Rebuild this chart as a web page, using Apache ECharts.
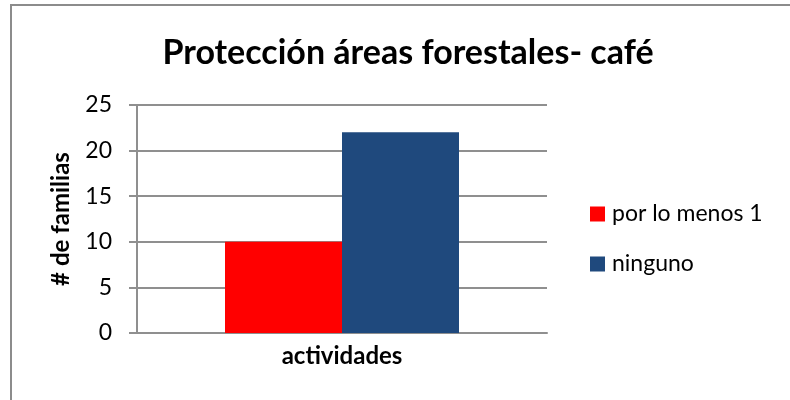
<!DOCTYPE html>
<html>
<head>
<meta charset="utf-8">
<style>
  html, body { margin: 0; padding: 0; background: #fff; }
  #chart { width: 790px; height: 400px; }
</style>
<script src="https://cdn.jsdelivr.net/npm/echarts@6/dist/echarts.min.js"></script>
</head>
<body>
<div id="chart"></div>
<script>
// Familias que realizan actividades de protección de áreas forestales en café
const chartTitle = 'Protección áreas forestales- café';
const categories = ['actividades'];
const seriesNames = ['por lo menos 1', 'ninguno'];
const seriesColors = ['#FF0000', '#1F497D'];
const porLoMenos1 = [10];
const ninguno = [22];
const yTicks = { min: 0, max: 25, interval: 5 };
const yName = '# de familias';

const FONT = 'Lato, "Liberation Sans", sans-serif';
const GRID_COLOR = '#8f8f8f';

const chart = echarts.init(document.getElementById('chart'), null, { renderer: 'canvas' });

chart.setOption({
  animation: false,
  backgroundColor: '#ffffff',
  graphic: [{
    type: 'rect',
    shape: { x: 11, y: 5, width: 900, height: 500 },
    style: { fill: 'none', stroke: '#8c8c8c', lineWidth: 2 },
    silent: true
  }],
  title: {
    text: chartTitle,
    left: 403,
    top: 31,
    textAlign: 'center',
    textStyle: { fontFamily: FONT, fontWeight: 'bold', fontSize: 34, color: '#000' }
  },
  legend: {
    orient: 'vertical',
    left: 590,
    top: 202,
    padding: 0,
    itemWidth: 15,
    itemHeight: 15,
    itemGap: 26,
    icon: 'rect',
    textStyle: { fontFamily: FONT, fontSize: 23, color: '#000', lineHeight: 24, padding: [0, 0, 0, 2] },
    data: seriesNames
  },
  grid: { left: 137, right: 243, top: 105, bottom: 67 },
  xAxis: {
    type: 'category',
    data: categories,
    axisLine: { show: true, lineStyle: { color: GRID_COLOR, width: 2 } },
    axisTick: { show: false },
    axisLabel: {
      margin: 11,
      fontFamily: FONT, fontWeight: 'bold', fontSize: 24, color: '#000'
    }
  },
  yAxis: {
    type: 'value',
    min: yTicks.min,
    max: yTicks.max,
    interval: yTicks.interval,
    name: yName,
    nameLocation: 'middle',
    nameRotate: 90,
    nameGap: 64,
    nameTextStyle: { fontFamily: FONT, fontWeight: 'bold', fontSize: 24, color: '#000' },
    axisLine: { show: true, lineStyle: { color: GRID_COLOR, width: 2 } },
    axisTick: { show: true, inside: false, length: 8, lineStyle: { color: GRID_COLOR, width: 2 } },
    axisLabel: { margin: 25, fontFamily: FONT, fontSize: 23, color: '#000' },
    splitLine: { show: true, lineStyle: { color: GRID_COLOR, width: 2 } }
  },
  series: [
    {
      name: seriesNames[0],
      type: 'bar',
      data: porLoMenos1,
      barWidth: 117,
      barGap: '0%',
      itemStyle: { color: seriesColors[0] }
    },
    {
      name: seriesNames[1],
      type: 'bar',
      data: ninguno,
      barWidth: 117,
      barGap: '0%',
      itemStyle: { color: seriesColors[1] }
    }
  ]
});
</script>
</body>
</html>
